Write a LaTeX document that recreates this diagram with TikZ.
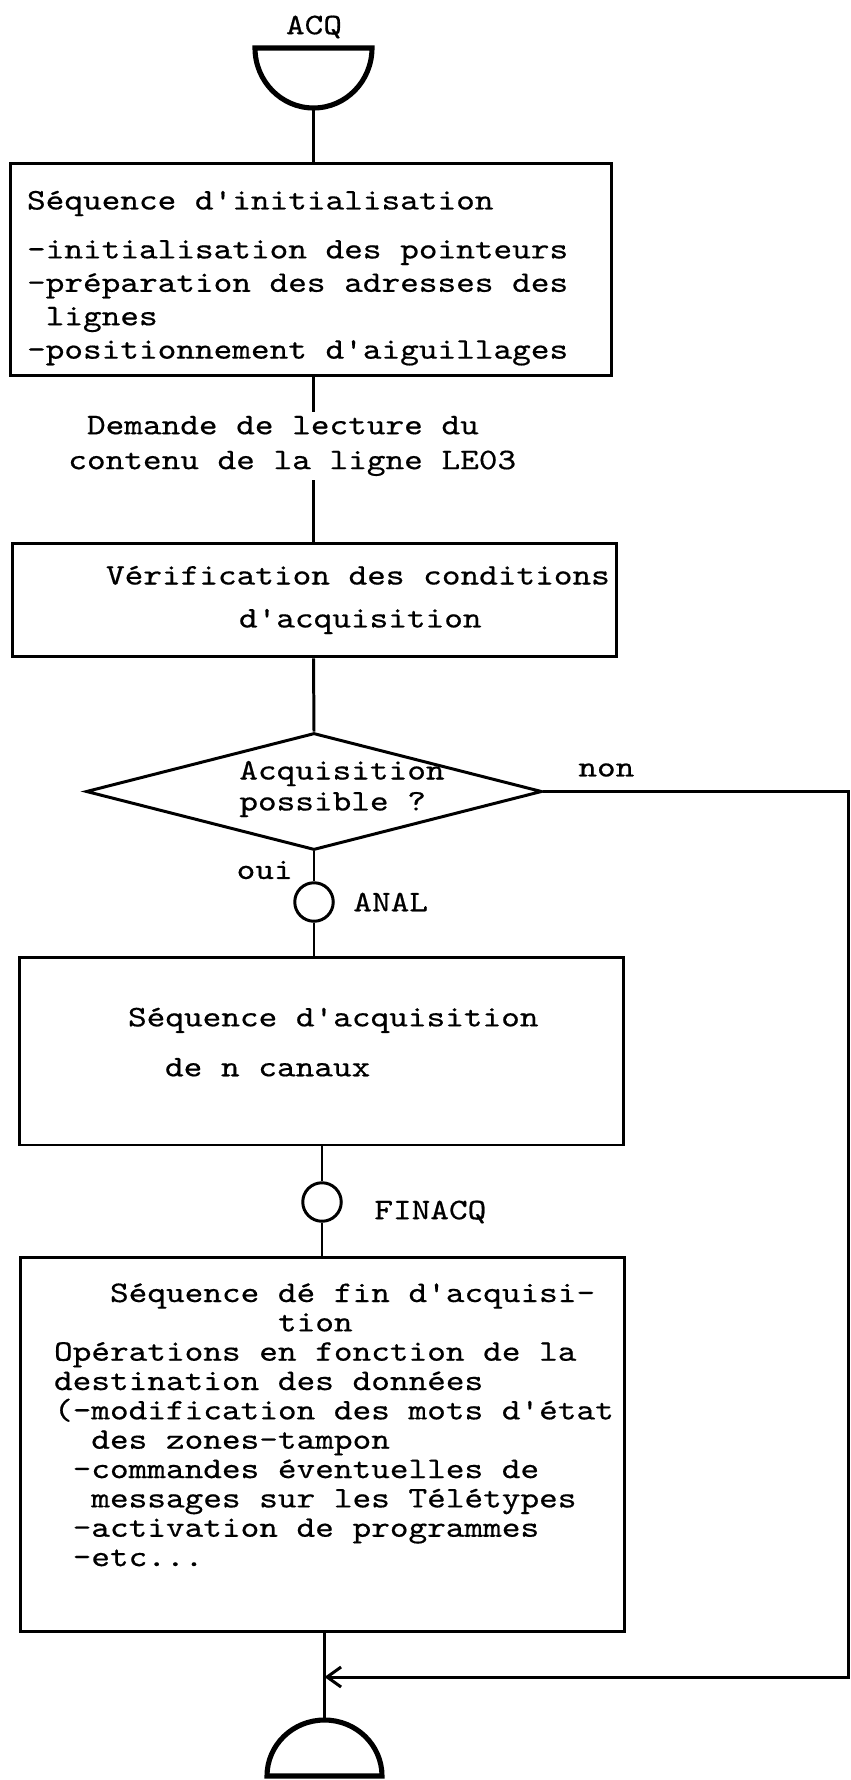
\documentclass[tikz,border=0pt]{standalone}
\usepackage{fontspec}
\usetikzlibrary{shapes.geometric,arrows.meta,positioning}
\newfontfamily\machine[FakeStretch=1.19,FakeBold=0.5]{lmmono10-regular.otf}
\def\dactylo{\machine\fontsize{17}{17.6}\selectfont}

\begin{document}
\begin{tikzpicture}[x=0.02cm,y=-0.02cm,
  trait/.style={line width=1.7pt},
  texte/.style={font=\dactylo,inner sep=0pt},
  boite/.style={draw,line width=1.7pt,rectangle,font=\dactylo,align=flush left,inner sep=0pt},
  rond/.style={draw,line width=1.7pt,circle,inner sep=0pt,minimum size=0.77cm},
  borne/.style={line width=2.9pt}]
%\draw[help lines] (0,0) grid[step=50] (851,1780);
\useasboundingbox (0,0) rectangle (851,1780);

% debut ACQ
\node[texte] (acq) at (314,27) {ACQ};
\draw[borne] (372,48) arc[start angle=0,end angle=180,x radius=58.5,y radius=60] -- cycle;
\coordinate (acqbas) at (313.5,108);

\node[boite,text width=12.04cm,minimum height=4.26cm] (init) at (311,269.5) {
\hspace*{0.34cm}\rule{0pt}{0.72cm}Séquence d'initialisation\\[0.36cm]
\hspace*{0.34cm}-initialisation des pointeurs\\[0.05cm]
\hspace*{0.34cm}-préparation des adresses des\\[0.05cm]
\hspace*{0.713cm}lignes\\[0.05cm]
\hspace*{0.34cm}-positionnement d'aiguillages};

\node[texte,align=left,anchor=west,inner ysep=0.08cm] (lecture) at (68,446)
  {\hspace*{0.373cm}Demande de lecture du\\[0.08cm]contenu de la ligne LE03};

\node[boite,text width=12.10cm,minimum height=2.28cm] (verif) at (314.5,600)
  {\hspace*{1.88cm}Vérification des conditions\\[0.24cm]\hspace*{4.54cm}d'acquisition};

% test
\node[draw,diamond,line width=1.7pt,minimum width=9.12cm,minimum height=2.34cm,inner sep=0pt] (test) at (314,791.5) {};
\node[texte,align=left,anchor=west] (question) at (239,789) {Acquisition\\possible ?};
\node[texte,anchor=west] (non) at (578,770) {non};
\node[texte,anchor=east] (oui) at (293,870) {oui};

\node[rond] (anal) at (314,902) {};
\node[texte,anchor=west] (lanal) at (353,902) {ANAL};

\node[boite,text width=12.10cm,minimum height=3.76cm] (calcul) at (321.5,1051)
  {\hspace*{2.18cm}Séquence d'acquisition\\[0.38cm]\hspace*{2.92cm}de n canaux\rule[-0.36cm]{0pt}{0pt}};

\node[rond] (finacq) at (322,1202) {};
\node[texte,anchor=west] (lfinacq) at (374,1212) {FINACQ};

\node[boite,text width=12.10cm,minimum height=7.5cm,font=\dactylo\fontsize{17}{16.7}\selectfont] (fin) at (322.5,1444.5) {
\hspace*{1.80cm}Séquence dé fin d'acquisi-\\
\hspace*{5.16cm}tion\\
\hspace*{0.68cm}Opérations en fonction de la\\
\hspace*{0.68cm}destination des données\\
\hspace*{0.68cm}(-modification des mots d'état\\
\hspace*{1.426cm}des zones-tampon\\
\hspace*{1.053cm}-commandes éventuelles de\\
\hspace*{1.426cm}messages sur les Télétypes\\
\hspace*{1.053cm}-activation de programmes\\
\hspace*{1.053cm}-etc...\rule[-0.79cm]{0pt}{0pt}};

% fin
\draw[borne] (267,1776) arc[start angle=180,end angle=360,x radius=57.5,y radius=56] -- cycle;
\coordinate (domehaut) at (324.5,1720);
\coordinate (retour) at (848,1677);

\draw[trait] (acqbas) -- (acqbas |- init.north);
\draw[trait] (acqbas |- init.south) -- (acqbas |- lecture.north);
\draw[trait] (acqbas |- lecture.south) -- (acqbas |- verif.north);
\draw[trait] (acqbas |- verif.south) -- (test.north);
\draw[trait] (test.south) -- (anal.north);
\draw[trait] (anal.south) -- (anal.south |- calcul.north);
\draw[trait] (finacq.north |- calcul.south) -- (finacq.north);
\draw[trait] (finacq.south) -- (finacq.south |- fin.north);
\draw[trait] (domehaut |- fin.south) -- (domehaut);
\draw[trait,-{Straight Barb[length=0.28cm,width=0.4cm]}] (test.east) -| (retour) -- (retour -| domehaut);
\end{tikzpicture}
\end{document}
